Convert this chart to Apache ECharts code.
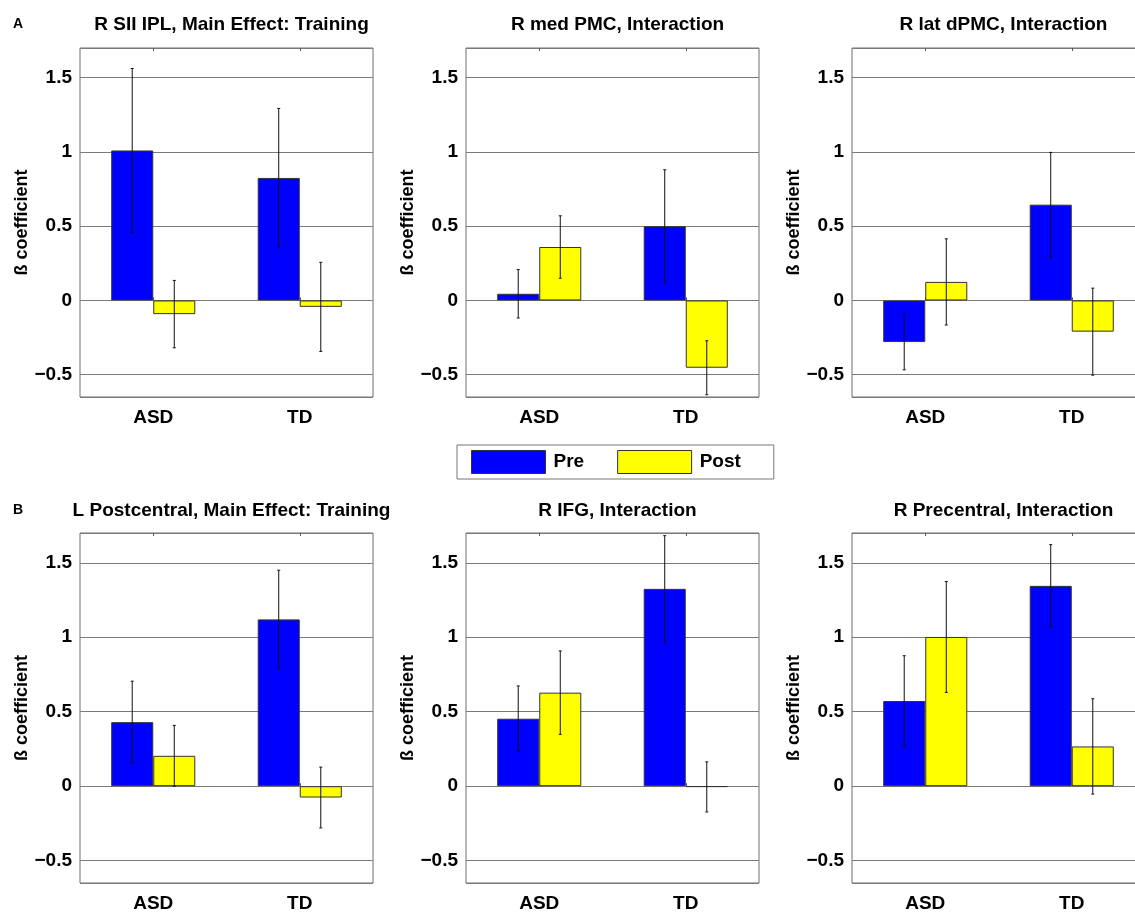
<!DOCTYPE html>
<html>
<head>
<meta charset="utf-8">
<script src="https://cdn.jsdelivr.net/npm/echarts@6/dist/echarts.min.js"></script>
<style>
html,body{margin:0;padding:0;background:#fff;}
#chart{width:1135px;height:912px;}
</style>
</head>
<body>
<div id="chart"></div>
<script>
const categories = ['ASD', 'TD'];
const seriesNames = ['Pre', 'Post'];
const panelTitles = [
  'R SII IPL, Main Effect: Training',
  'R med PMC, Interaction',
  'R lat dPMC, Interaction',
  'L Postcentral, Main Effect: Training',
  'R IFG, Interaction',
  'R Precentral, Interaction'
];
const panelLetters = ['A', 'B'];
const preMeans  = [[1.01, 0.825], [0.045, 0.50], [-0.28, 0.645], [0.43, 1.12], [0.453, 1.325], [0.572, 1.345]];
const postMeans = [[-0.092, -0.043], [0.36, -0.453], [0.125, -0.21], [0.204, -0.076], [0.628, -0.005], [1.002, 0.267]];
const preErr    = [[0.552, 0.468], [0.163, 0.38], [0.187, 0.352], [0.275, 0.33], [0.22, 0.357], [0.304, 0.277]];
const postErr   = [[0.227, 0.30], [0.21, 0.182], [0.29, 0.293], [0.204, 0.204], [0.28, 0.168], [0.372, 0.32]];
const yAxisName = 'ß coefficient';

const FONT = '"Liberation Sans", Arial, Helvetica, sans-serif';
const colors = ['#0000ff', '#ffff00'];
const gridLefts = [80, 466, 852];
const gridTops = [48, 533];
const gridW = 293, gridH = 349;
const BAR_FRAC = 0.287;

const grids = [], xAxes = [], yAxes = [], titles = [], series = [];
for (let p = 0; p < 6; p++) {
  const col = p % 3, row = Math.floor(p / 3);
  grids.push({left: gridLefts[col], top: gridTops[row], width: gridW, height: gridH + row,
    outerBoundsMode: 'none', containLabel: false,
    show: true, borderColor: '#6e6e6e', borderWidth: 1, backgroundColor: 'transparent'});
  titles.push({text: panelTitles[p], left: gridLefts[col] + gridW / 2, top: row ? 496 : 10, textAlign: 'center',
    textStyle: {fontFamily: FONT, fontSize: 19, fontWeight: 'bold', color: '#000'}});
  xAxes.push({type: 'category', gridIndex: p, data: categories, position: 'bottom',
    axisLine: {show: false}, axisTick: {show: true, inside: true, alignWithLabel: true, length: 3, lineStyle: {color: '#555'}},
    axisLabel: {margin: 11, fontFamily: FONT, fontSize: 19, fontWeight: 'bold', color: '#000'},
    splitLine: {show: false}});
  xAxes.push({type: 'category', gridIndex: p, data: categories, position: 'top',
    axisLine: {show: false}, axisTick: {show: true, inside: true, alignWithLabel: true, length: 3, lineStyle: {color: '#555'}},
    axisLabel: {show: false}, splitLine: {show: false}});
  yAxes.push({type: 'value', gridIndex: p, min: -0.65, max: 1.7, splitNumber: 5,
    name: yAxisName, nameLocation: 'middle', nameGap: 49,
    nameTextStyle: {fontFamily: FONT, fontSize: 18, fontWeight: 'bold', color: '#000'},
    axisLine: {show: false}, axisTick: {show: false},
    axisLabel: {margin: 8, fontFamily: FONT, fontSize: 19, fontWeight: 'bold', color: '#000',
      showMinLabel: false, showMaxLabel: false,
      formatter: function (v) {
        const r = Math.round(v * 2) / 2;
        if (Math.abs(r - v) > 1e-6) return '';
        return r < 0 ? '\u2212' + Math.abs(r) : String(r);
      }},
    splitLine: {show: true, lineStyle: {color: '#7a7a7a', width: 1}}});

  const means = [preMeans[p], postMeans[p]];
  const errs = [preErr[p], postErr[p]];
  for (let s = 0; s < 2; s++) {
    series.push({name: seriesNames[s], type: 'bar', xAxisIndex: 2 * p, yAxisIndex: p,
      data: means[s], barWidth: (BAR_FRAC * 100) + '%', barGap: '0%',
      itemStyle: {color: colors[s], borderColor: '#333', borderWidth: 1}, z: 2, silent: true});
  }
  for (let s = 0; s < 2; s++) {
    const sign = s === 0 ? -1 : 1;
    series.push({type: 'custom', xAxisIndex: 2 * p, yAxisIndex: p, z: 5, silent: true,
      data: categories.map((c, i) => [i, means[s][i], errs[s][i]]),
      renderItem: function (params, api) {
        const idx = api.value(0), m = api.value(1), e = api.value(2);
        const band = api.size([1, 0])[0];
        const cx = api.coord([idx, m])[0] + sign * band * BAR_FRAC / 2;
        const yt = api.coord([idx, m + e])[1];
        const yb = api.coord([idx, m - e])[1];
        const st = {stroke: '#111', lineWidth: 1};
        return {type: 'group', children: [
          {type: 'line', shape: {x1: cx, y1: yt, x2: cx, y2: yb}, style: st},
          {type: 'line', shape: {x1: cx - 1.5, y1: yt, x2: cx + 1.5, y2: yt}, style: st},
          {type: 'line', shape: {x1: cx - 1.5, y1: yb, x2: cx + 1.5, y2: yb}, style: st}
        ]};
      }});
  }
}

const chart = echarts.init(document.getElementById('chart'), null, {renderer: 'canvas'});
chart.setOption({
  animation: false,
  backgroundColor: '#fff',
  title: titles,
  grid: grids,
  xAxis: xAxes,
  yAxis: yAxes,
  legend: {data: seriesNames, left: 457, top: 445, orient: 'horizontal',
    itemWidth: 74, itemHeight: 23, itemGap: 33, padding: [5, 33, 5, 14],
    borderColor: '#777', borderWidth: 1, backgroundColor: '#fff', icon: 'rect',
    itemStyle: {borderWidth: 1, borderColor: '#333'},
    textStyle: {fontFamily: FONT, fontSize: 19, fontWeight: 'bold', color: '#000', padding: [0, 0, 0, 3]},
    selectedMode: false},
  graphic: [
    {type: 'text', left: 13, top: 17, style: {text: panelLetters[0], font: 'bold 14px ' + FONT, fill: '#000'}},
    {type: 'text', left: 13, top: 503, style: {text: panelLetters[1], font: 'bold 14px ' + FONT, fill: '#000'}}
  ],
  series: series
});
</script>
</body>
</html>
